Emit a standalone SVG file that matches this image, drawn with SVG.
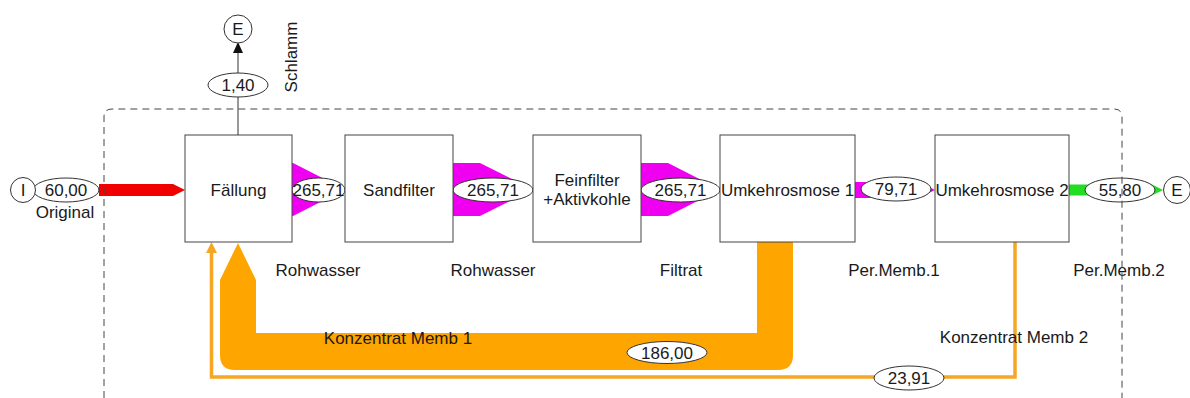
<svg xmlns="http://www.w3.org/2000/svg" width="1190" height="398" viewBox="0 0 1190 398">
<style>
text{font-family:"Liberation Sans",Arial,sans-serif;font-size:17px;fill:#1a1a1a;text-anchor:middle}
.box{fill:#fff;stroke:#444;stroke-width:1}
.lab{fill:#fff;stroke:#333;stroke-width:1}
.term{fill:#fff;stroke:#333;stroke-width:1}
.mag{fill:#f000f0}
.org{fill:#ffa500}
.border{fill:none;stroke:#444;stroke-width:1;stroke-dasharray:7 5}
</style>
<rect width="1190" height="398" fill="#fff"/>
<g id="connectors">
  <polygon fill="#f00000" points="99,184 173,184 185,190 173,196 99,196"/>
  <line x1="238" y1="135" x2="238" y2="52" stroke="#333" stroke-width="1"/>
  <polygon fill="#111" points="233,53 243,53 238,42"/>
  <polygon class="mag" points="292,163 293,163 345,189.5 293,216 292,216"/>
  <polygon class="mag" points="453,163 480,163 533,189.5 480,216 453,216"/>
  <polygon class="mag" points="641,163 668,163 720,189.5 668,216 641,216"/>
  <polygon class="mag" points="855,182 919,182 935,190 919,198 855,198"/>
  <polygon fill="#22dd22" points="1069,184.5 1152,184.5 1163,190 1152,195.5 1069,195.5"/>
  <path class="org" d="M757,242 H793 V355 Q793,370 778,370 H235 Q220,370 220,355 V280 L238,243 L256,280 V333 H757 Z"/>
  <path d="M1015,242 V377 H211.5 V252" fill="none" stroke="#f5a623" stroke-width="3.5"/>
  <polygon fill="#f5a623" points="206,253 217,253 211.5,242"/>
  <ellipse class="lab" cx="238" cy="85" rx="30" ry="12"/>
  <text x="238" y="91">1,40</text>
  <ellipse class="lab" cx="66" cy="190" rx="33" ry="12"/>
  <text x="66" y="196">60,00</text>
  <ellipse class="lab" cx="318.5" cy="190" rx="26.5" ry="12"/>
  <text x="318.5" y="196">265,71</text>
  <ellipse class="lab" cx="493" cy="190" rx="40" ry="12"/>
  <text x="493" y="196">265,71</text>
  <ellipse class="lab" cx="680.5" cy="190" rx="39.5" ry="12"/>
  <text x="680.5" y="196">265,71</text>
  <ellipse class="lab" cx="896" cy="189" rx="35" ry="12"/>
  <text x="896" y="195">79,71</text>
  <ellipse class="lab" cx="1120" cy="190" rx="35" ry="12"/>
  <text x="1120" y="196">55,80</text>
  <ellipse class="lab" cx="667" cy="352.5" rx="40" ry="11"/>
  <text x="667" y="358.5">186,00</text>
  <ellipse class="lab" cx="909" cy="378" rx="35" ry="12"/>
  <text x="909" y="384">23,91</text>
  <text transform="translate(297,57) rotate(-90)">Schlamm</text>
  <text x="65" y="218">Original</text>
  <text x="318" y="276">Rohwasser</text>
  <text x="493" y="276">Rohwasser</text>
  <text x="681" y="276">Filtrat</text>
  <text x="894" y="276">Per.Memb.1</text>
  <text x="1119" y="276">Per.Memb.2</text>
  <text x="398" y="344">Konzentrat Memb 1</text>
  <text x="1014" y="343">Konzentrat Memb 2</text>
</g>
<g id="n-I">
  <circle class="term" cx="23" cy="190" r="12.5"/>
  <text x="23" y="196">I</text>
</g>
<g id="n-E-top">
  <circle class="term" cx="238" cy="29" r="14"/>
  <text x="238" y="35">E</text>
</g>
<g id="n-E-right">
  <circle class="term" cx="1177" cy="190" r="13.5"/>
  <text x="1177" y="196">E</text>
</g>
<g id="n-faellung">
  <rect class="box" x="185" y="135" width="107" height="107"/>
  <text x="238.5" y="196">Fällung</text>
</g>
<g id="n-sandfilter">
  <rect class="box" x="345" y="135" width="108" height="107"/>
  <text x="399" y="196">Sandfilter</text>
</g>
<g id="n-feinfilter">
  <rect class="box" x="533" y="135" width="108" height="107"/>
  <text x="587" y="186">Feinfilter</text>
  <text x="587" y="205">+Aktivkohle</text>
</g>
<g id="n-uo1">
  <rect class="box" x="720" y="135" width="135" height="107"/>
  <text x="787.5" y="196">Umkehrosmose 1</text>
</g>
<g id="n-uo2">
  <rect class="box" x="935" y="135" width="134" height="107"/>
  <text x="1002" y="196">Umkehrosmose 2</text>
</g>
<path class="border" d="M104,398 V117 Q104,109 112,109 H1114 Q1122,109 1122,117 V398"/>
</svg>
